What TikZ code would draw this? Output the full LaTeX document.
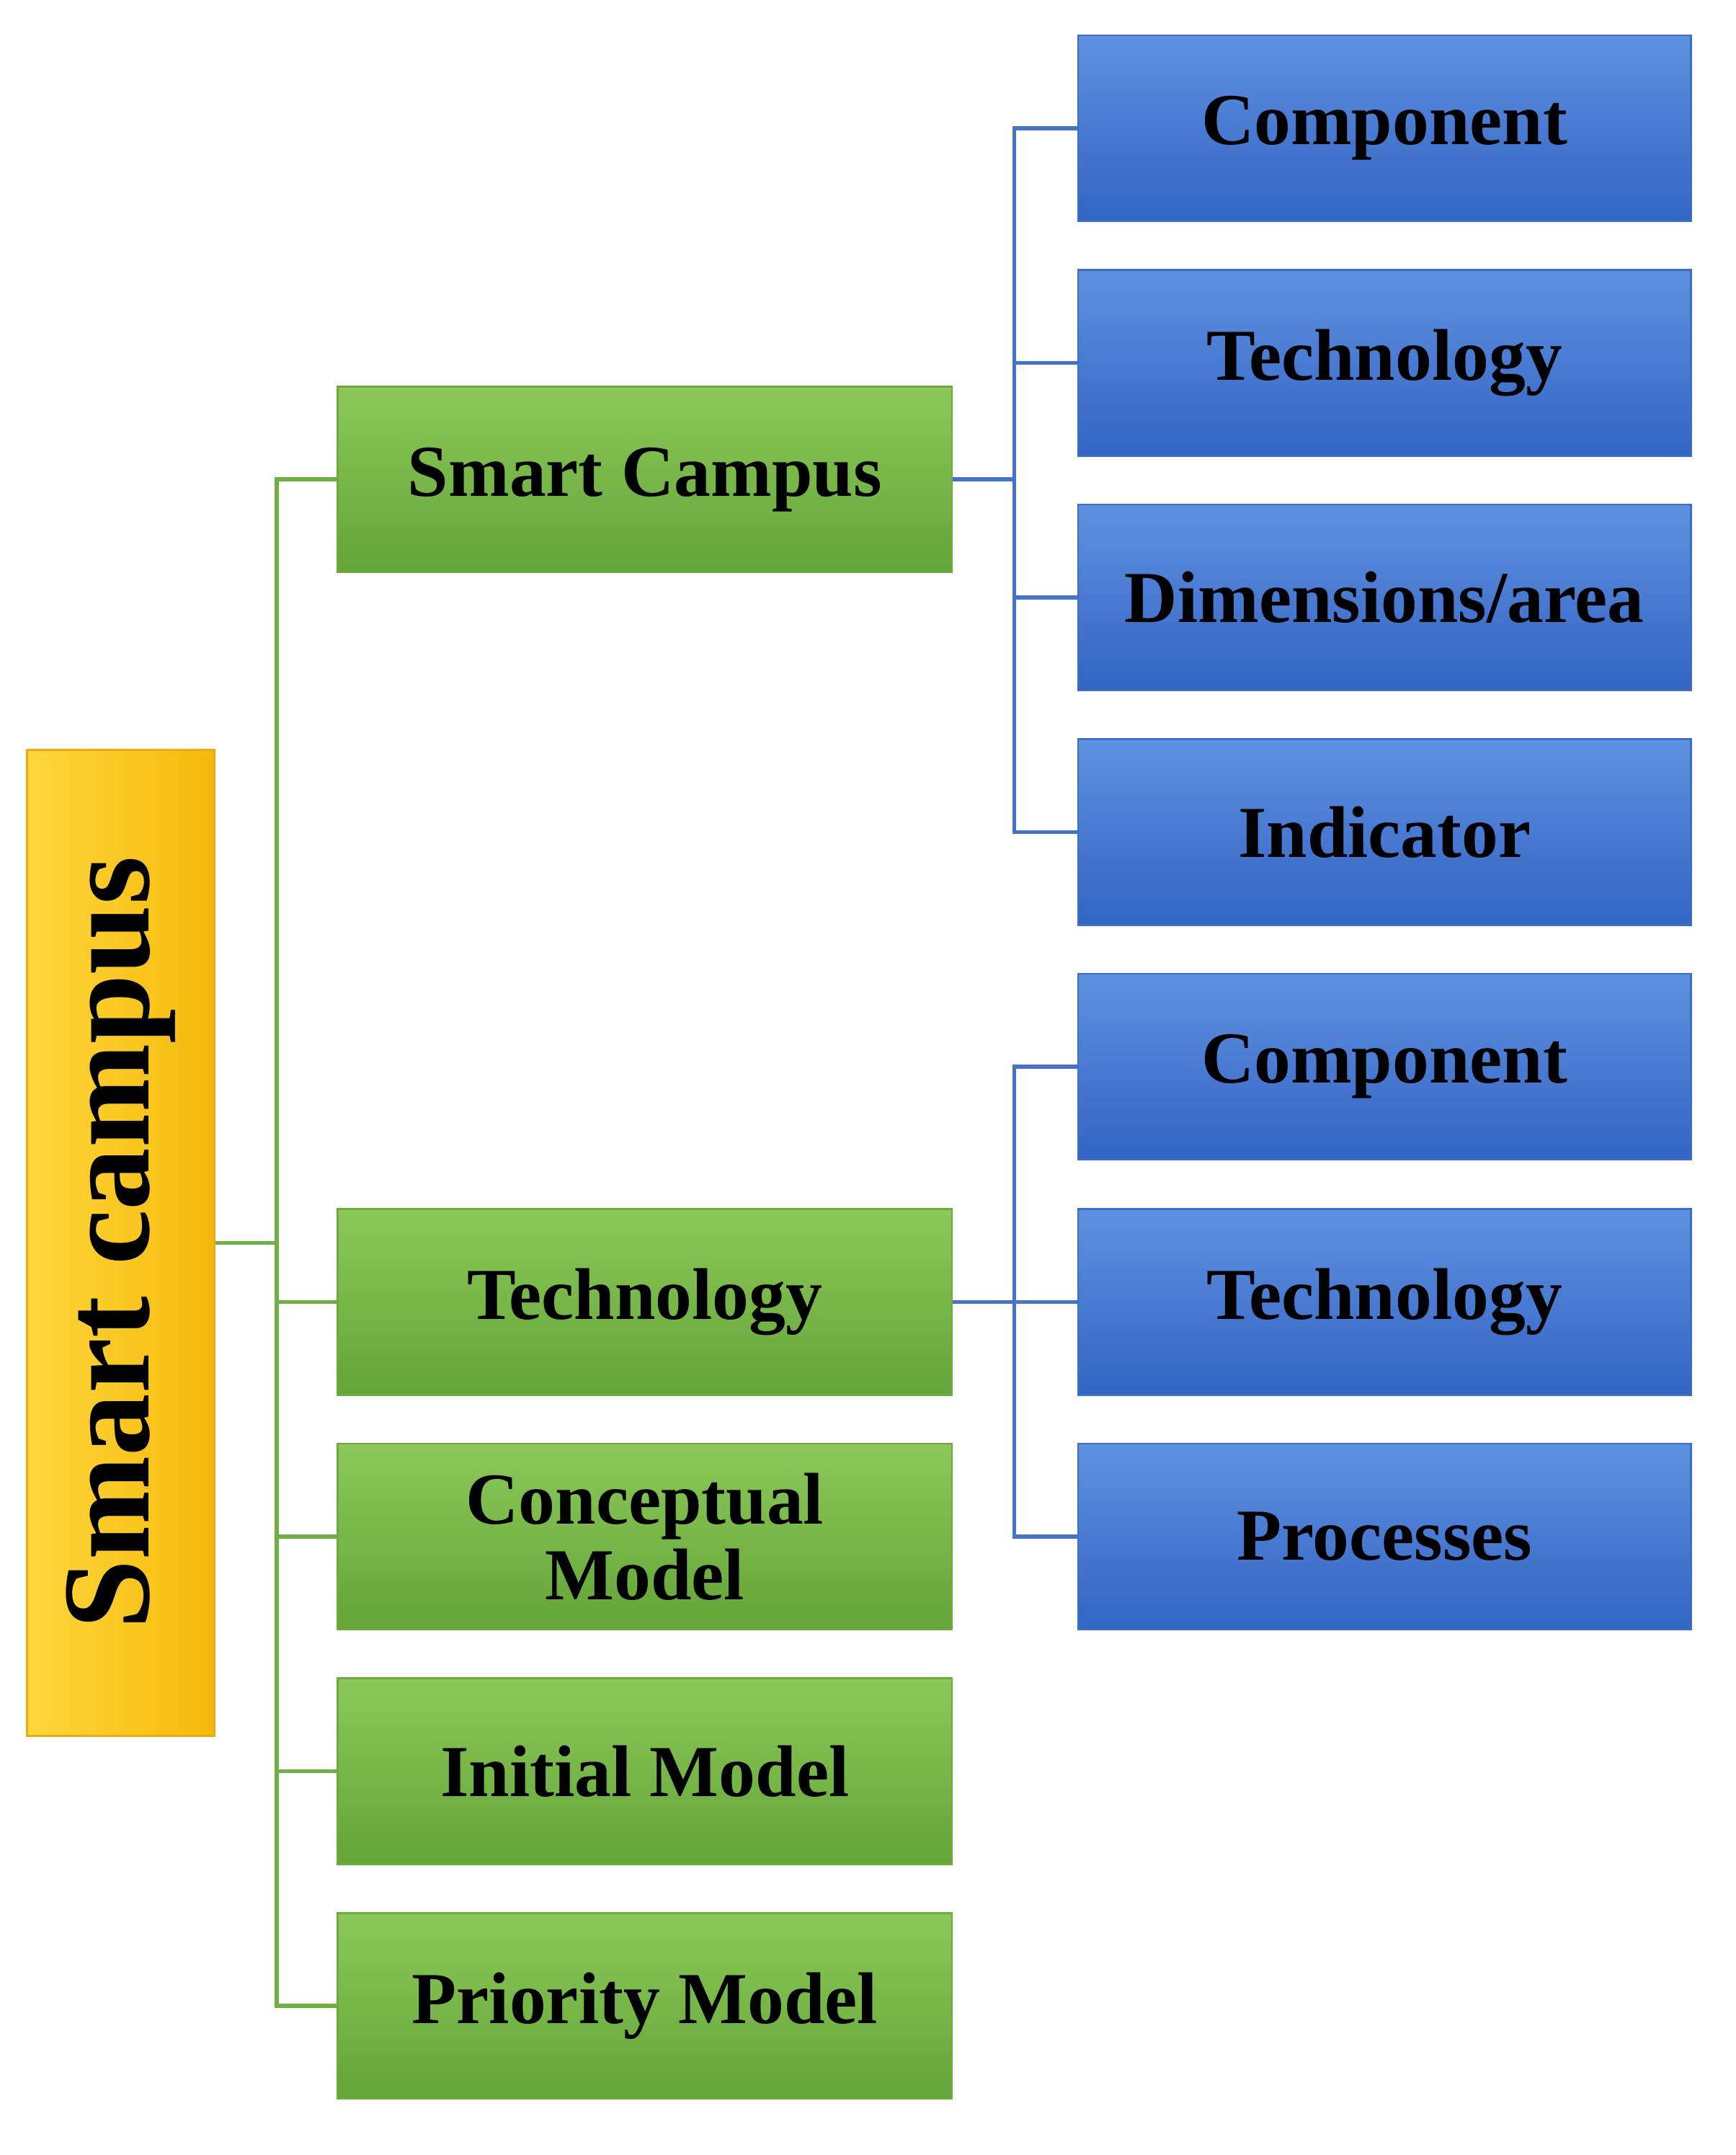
\documentclass[tikz,border=0pt]{standalone}
\usepackage{fontspec}
\setmainfont{Liberation Serif}
\begin{document}
\begin{tikzpicture}[x=1pt,y=-1pt,
  gbox/.style={line width=1.5pt, minimum width=453pt, minimum height=137pt, inner sep=0pt, font=\fontsize{54}{56}\selectfont\bfseries, align=center,
    top color={rgb,255:red,140;green,200;blue,90}, bottom color={rgb,255:red,100;green,165;blue,55}, draw={rgb,255:red,110;green,170;blue,60}},
  bbox/.style={line width=1.5pt, minimum width=452pt, minimum height=137pt, inner sep=0pt, font=\fontsize{54}{56}\selectfont\bfseries, align=center,
    top color={rgb,255:red,95;green,145;blue,225}, bottom color={rgb,255:red,50;green,100;blue,195}, draw={rgb,255:red,60;green,110;blue,200}},
  gline/.style={line width=3pt, draw={rgb,255:red,110;green,175;blue,70}},
  bline/.style={line width=3pt, draw={rgb,255:red,70;green,115;blue,200}}]
\useasboundingbox (0,0) rectangle (1280,1589);
\node[draw={rgb,255:red,235;green,170;blue,20}, line width=1.5pt, left color={rgb,255:red,255;green,215;blue,60}, right color={rgb,255:red,245;green,185;blue,10}, minimum width=138pt, minimum height=727pt, inner sep=0pt] (root) at (89,916.5) {};
\node[rotate=90, font=\fontsize{92}{96}\selectfont\bfseries] at (root.center) {Smart campus};
\node[gbox] (g1) at (475.5,353.5) {Smart Campus};
\node[gbox] (g2) at (475.5,960) {Technology};
\node[gbox] (g3) at (475.5,1133) {Conceptual\\Model};
\node[gbox] (g4) at (475.5,1306) {Initial Model};
\node[gbox] (g5) at (475.5,1479) {Priority Model};
\node[bbox] (b1) at (1021,94.5) {Component};
\node[bbox] (b2) at (1021,267.5) {Technology};
\node[bbox] (b3) at (1021,440.5) {Dimensions/area};
\node[bbox] (b4) at (1021,613.5) {Indicator};
\node[bbox] (b5) at (1021,786.5) {Component};
\node[bbox] (b6) at (1021,960) {Technology};
\node[bbox] (b7) at (1021,1133) {Processes};
\coordinate (t) at (204,916.5);
\draw[gline] (root.east|-t) -- (t);
\draw[gline] (g1.west) -| (t) |- (g5.west);
\foreach \n in {g2,g3,g4} \draw[gline] (t|-\n.west) -- (\n.west);
\coordinate (u) at (748,353.5);
\draw[bline] (g1.east) -- (u);
\draw[bline] (b1.west) -| (u) |- (b4.west);
\foreach \n in {b2,b3} \draw[bline] (u|-\n.west) -- (\n.west);
\coordinate (v) at (748,960);
\draw[bline] (g2.east) -- (b6.west);
\draw[bline] (b5.west) -| (v) |- (b7.west);
\end{tikzpicture}
\end{document}
